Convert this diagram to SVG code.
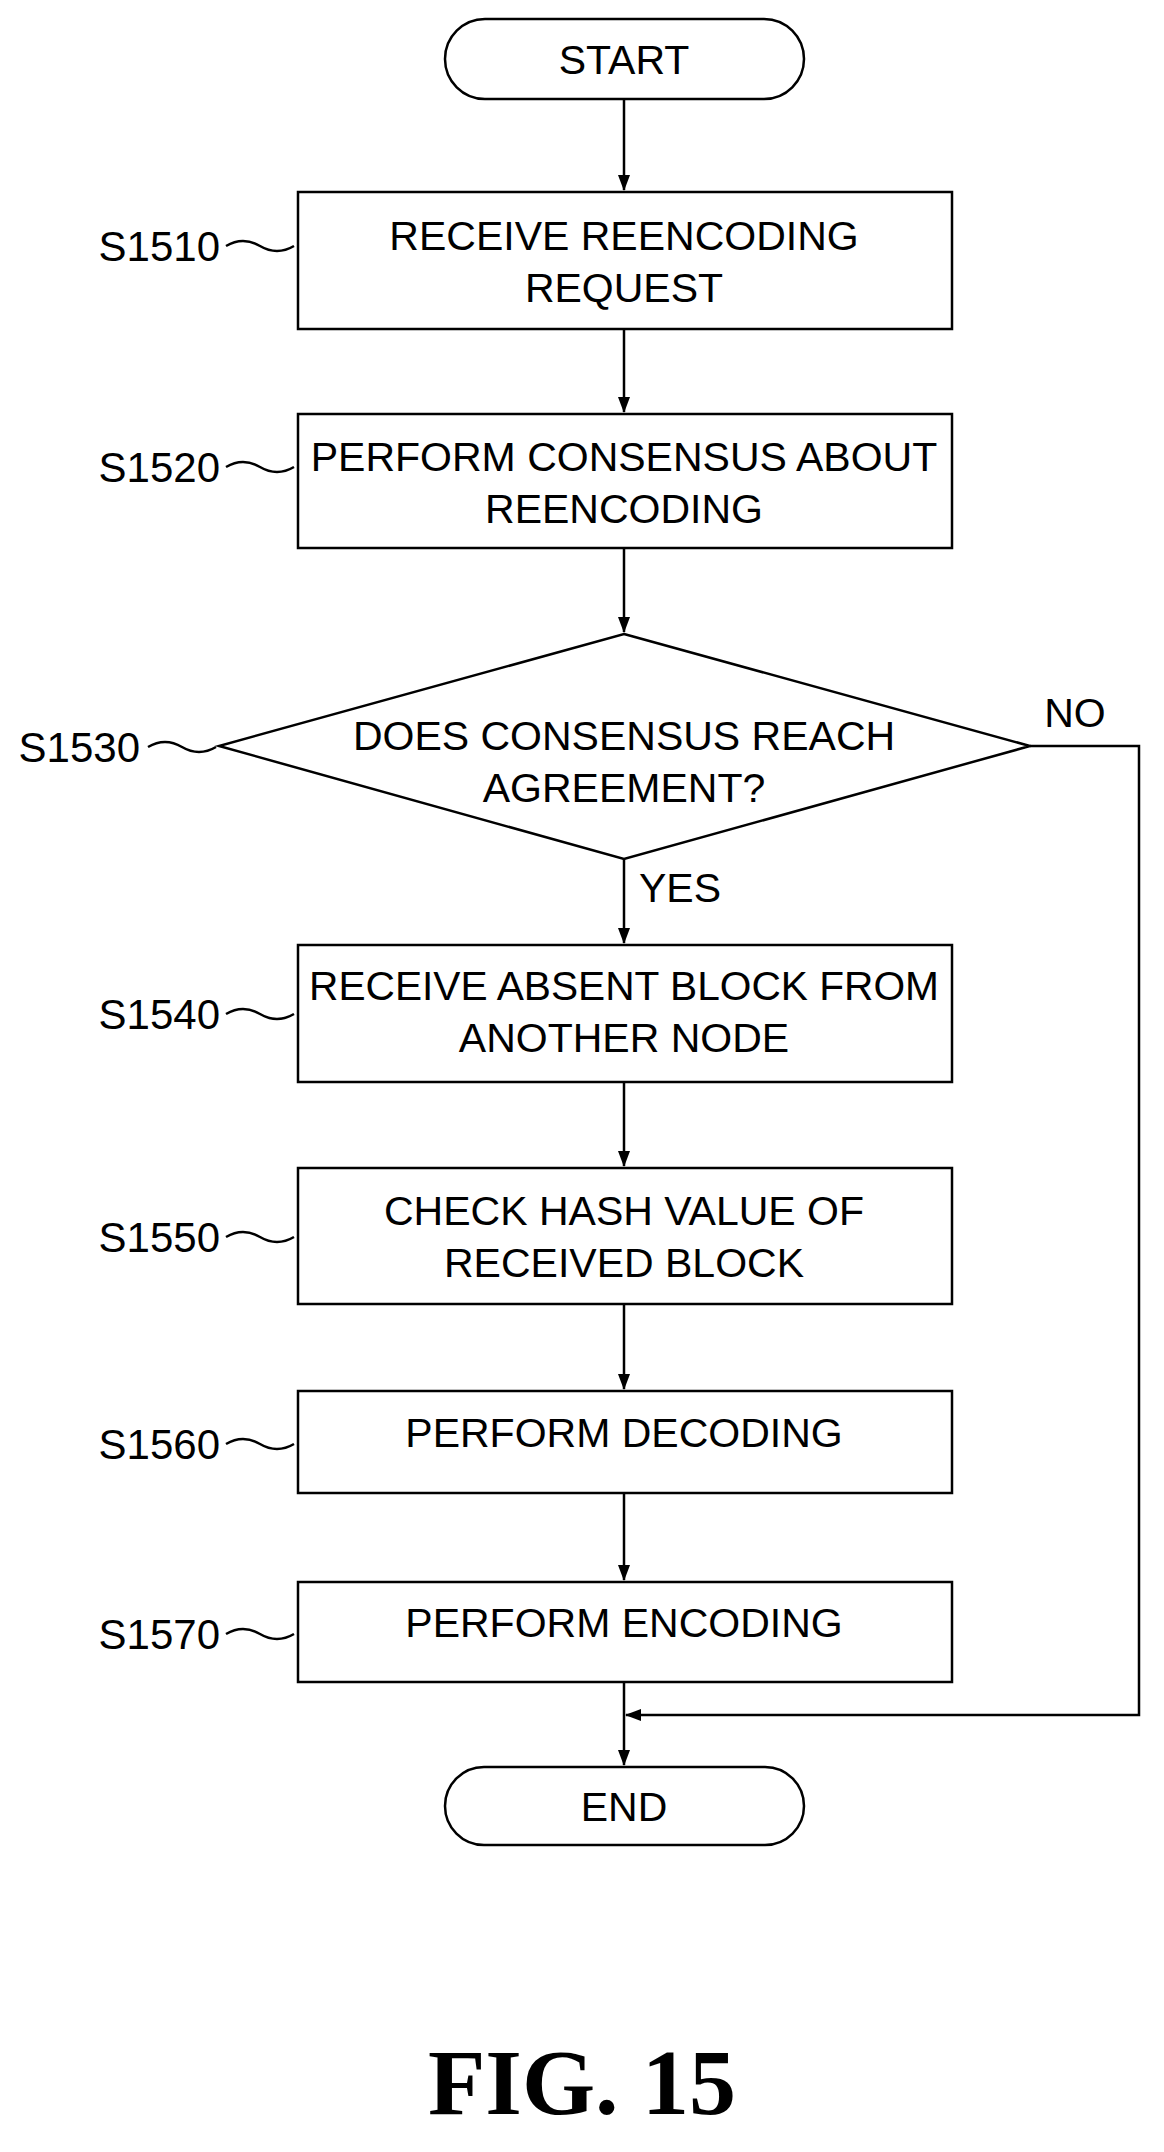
<svg xmlns="http://www.w3.org/2000/svg" width="1164" height="2152" viewBox="0 0 1164 2152">
<defs>
<style>
.s{fill:#fff;stroke:#000;stroke-width:2.5}
.t{font-family:"Liberation Sans",Arial,sans-serif;font-size:41px;text-anchor:middle;fill:#000}
.l{font-family:"Liberation Sans",Arial,sans-serif;font-size:42px;text-anchor:end;fill:#000}
.c{fill:none;stroke:#000;stroke-width:2.5}
</style>
<marker id="a" markerWidth="16" markerHeight="14" refX="15" refY="7" orient="auto" markerUnits="userSpaceOnUse"><path d="M0,1 L16,7 L0,13 Z" fill="#000"/></marker>
</defs>
<rect width="1164" height="2152" fill="#fff"/>
<g id="connectors">
<path class="c" d="M624,99 V190" marker-end="url(#a)"/>
<path class="c" d="M624,329 V412" marker-end="url(#a)"/>
<path class="c" d="M624,548 V632" marker-end="url(#a)"/>
<path class="c" d="M624,859 V943" marker-end="url(#a)"/>
<path class="c" d="M624,1082 V1166" marker-end="url(#a)"/>
<path class="c" d="M624,1304 V1389" marker-end="url(#a)"/>
<path class="c" d="M624,1493 V1580" marker-end="url(#a)"/>
<path class="c" d="M624,1682 V1765" marker-end="url(#a)"/>
<path class="c" d="M1030,746 H1139 V1715 H626" marker-end="url(#a)"/>
<text class="t" x="1075" y="727">NO</text>
<text class="t" x="680" y="902">YES</text>
</g>
<g id="start"><rect class="s" x="445" y="19" width="359" height="80" rx="40"/><text class="t" x="624" y="74">START</text></g>
<g id="s1510"><rect class="s" x="298" y="192" width="654" height="137"/><text class="t" x="624" y="250">RECEIVE REENCODING</text><text class="t" x="624" y="302">REQUEST</text>
<text class="l" x="220" y="261">S1510</text><path class="c" d="M226,246 q17,-10 34,0 t34,0"/></g>
<g id="s1520"><rect class="s" x="298" y="414" width="654" height="134"/><text class="t" x="624" y="471">PERFORM CONSENSUS ABOUT</text><text class="t" x="624" y="523">REENCODING</text>
<text class="l" x="220" y="482">S1520</text><path class="c" d="M226,467 q17,-10 34,0 t34,0"/></g>
<g id="s1530"><path class="s" d="M624,634 L1030,746 L624,859 L219,746 Z"/><text class="t" x="624" y="750">DOES CONSENSUS REACH</text><text class="t" x="624" y="802">AGREEMENT?</text>
<text class="l" x="140" y="762">S1530</text><path class="c" d="M148,747 q17,-10 34,0 t34,0"/></g>
<g id="s1540"><rect class="s" x="298" y="945" width="654" height="137"/><text class="t" x="624" y="1000" textLength="630" lengthAdjust="spacingAndGlyphs">RECEIVE ABSENT BLOCK FROM</text><text class="t" x="624" y="1052">ANOTHER NODE</text>
<text class="l" x="220" y="1029">S1540</text><path class="c" d="M226,1014 q17,-10 34,0 t34,0"/></g>
<g id="s1550"><rect class="s" x="298" y="1168" width="654" height="136"/><text class="t" x="624" y="1225">CHECK HASH VALUE OF</text><text class="t" x="624" y="1277">RECEIVED BLOCK</text>
<text class="l" x="220" y="1252">S1550</text><path class="c" d="M226,1237 q17,-10 34,0 t34,0"/></g>
<g id="s1560"><rect class="s" x="298" y="1391" width="654" height="102"/><text class="t" x="624" y="1447">PERFORM DECODING</text>
<text class="l" x="220" y="1459">S1560</text><path class="c" d="M226,1444 q17,-10 34,0 t34,0"/></g>
<g id="s1570"><rect class="s" x="298" y="1582" width="654" height="100"/><text class="t" x="624" y="1637">PERFORM ENCODING</text>
<text class="l" x="220" y="1649">S1570</text><path class="c" d="M226,1634 q17,-10 34,0 t34,0"/></g>
<g id="end"><rect class="s" x="445" y="1767" width="359" height="78" rx="39"/><text class="t" x="624" y="1821">END</text></g>
<text x="582" y="2114" style="font-family:'Liberation Serif',serif;font-weight:bold;font-size:94px;text-anchor:middle">FIG. 15</text>
</svg>
